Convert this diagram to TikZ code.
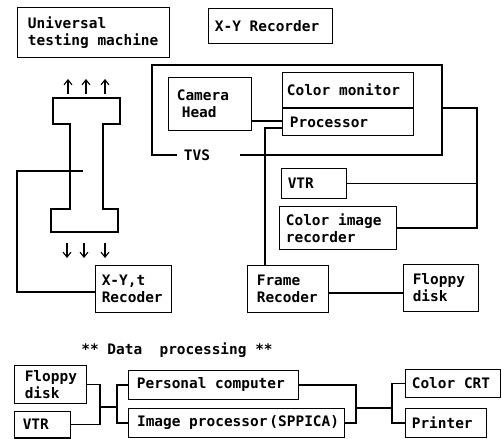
\documentclass[tikz,border=0pt]{standalone}
\usepackage{fontspec}
\setmonofont{DejaVu Sans Mono}
\usetikzlibrary{arrows.meta}
\tikzset{
  box/.style={draw, line width=1.1bp, inner sep=0pt},
  txt/.style={inner sep=0pt, align=left, anchor=west,
    font=\ttfamily\bfseries\fontsize{14.5}{17}\selectfont},
  wire/.style={line width=1.1bp},
  lbl/.style={inner sep=1bp, font=\ttfamily\bfseries\fontsize{14.5}{17}\selectfont},
  force/.style={line width=1.1bp, -{Straight Barb[length=5bp,width=8bp]}}
}
% [left padding] name, corner (x1,y1), corner (x2,y2), text -- pixel coordinates
\newcommand{\pbox}[7][9]{%
  \node[box, minimum width={(#5)-(#3)}, minimum height={(#6)-(#4)}]
    (#2) at ({((#3)+(#5))/2},{((#4)+(#6))/2}) {};
  \node[txt] (#2-t) at ([xshift=#1bp]#2.west) {#7};}
\begin{document}
\begin{tikzpicture}[x=1bp,y=-1bp]
\useasboundingbox (0,0) rectangle (502,439);

% ---- upper part ----
\pbox[11]{utm}{17}{7}{170}{58}{Universal\\testing machine}
\pbox[7]{xyr}{208}{8}{333}{44}{X-Y Recorder}
\pbox[9]{cam}{168}{77}{252}{131}{Camera\\\hspace*{5bp}Head}
\pbox[5]{cm}{282}{72}{414}{108}{Color monitor}
\pbox[8]{proc}{282}{108}{414}{136}{Processor}
\pbox[7]{vtra}{281}{168}{347}{199}{VTR}
\pbox[7]{cir}{279}{206}{397}{250}{Color image\\recorder}
\pbox[10]{frame}{247}{265}{329}{313}{Frame\\Recoder}
\pbox[10]{fda}{403}{264}{479}{312}{Floppy\\disk}
\pbox[7]{xyt}{95}{265}{172}{313}{X-Y,t\\Recoder}

% TVS enclosure
\node[lbl] (tvs) at (197,155) {TVS};
\coordinate (tvsL) at (177,155);
\coordinate (tvsR) at (240,155);
\coordinate (tvsBL) at (152,155);
\coordinate (tvsTL) at (152,65);
\coordinate (tvsTR) at (442,65);
\coordinate (tvsBR) at (442,155);
\draw[wire] (tvsL) -- (tvsBL) -- (tvsTL) -- (tvsTR) -- (tvsBR) -- (tvsR);

% camera head -> processor
\coordinate (ya) at (0,121);
\draw[wire] (cam.east |- ya) -- (proc.west |- ya);
% frame recorder -> processor
\coordinate (fx) at (265,128);
\draw[wire] (frame.north -| fx) -- (fx) -- (proc.west |- fx);
% TVS -> VTR and colour image recorder
\coordinate (ta) at (442,108);
\coordinate (tb) at (477,108);
\draw[wire] (ta) -- (tb) -- (tb |- cir.east) -- (cir.east);
\draw[wire] (vtra.east) -- (tb |- vtra.east);
% frame recorder -> floppy disk
\coordinate (yf) at (0,293);
\draw[wire] (frame.east |- yf) -- (fda.west |- yf);
% X-Y,t recorder -> specimen
\coordinate (xa) at (17,171);
\coordinate (xb) at (83,171);
\draw[wire] (xyt.west |- 0,292) -- (xa |- 0,292) -- (xa) -- (xb);

% specimen
\draw[wire] (53,98) -- (120,98) -- (120,124) -- (103,124) -- (103,209)
  -- (118,209) -- (118,232) -- (51,232) -- (51,209) -- (70,209)
  -- (70,124) -- (53,124) -- cycle;
\foreach \x in {68,86,105} \draw[force] (\x,94) -- (\x,79);
\foreach \x in {67,84,105} \draw[force] (\x,243) -- (\x,258);

% ---- data processing ----
\node[lbl] (title) at (177,350) {** Data\ \ processing **};
\pbox[11]{fdb}{14}{365}{87}{404}{Floppy\\disk}
\pbox[9]{vtrb}{14}{411}{71}{438}{VTR}
\pbox[9]{pc}{128}{370}{299}{400}{Personal computer}
\pbox[9]{ip}{128}{408}{345}{438}{Image processor\hspace{2bp}(SPPICA)}
\pbox[7]{crt}{405}{369}{501}{398}{Color CRT}
\pbox[7]{prn}{405}{408}{487}{438}{Printer}

\coordinate (la) at (100,407);
\coordinate (lb) at (117,407);
\draw[wire] (fdb.east) -- (la |- fdb.east) -- (la |- vtrb.east) -- (vtrb.east);
\draw[wire] (la) -- (lb);
\draw[wire] (pc.west) -- (lb |- pc.west) -- (lb |- ip.west) -- (ip.west);

\coordinate (ra) at (356,408);
\coordinate (rb) at (392,408);
\draw[wire] (pc.east) -- (ra |- pc.east) -- (ra |- ip.east) -- (ip.east);
\draw[wire] (ra) -- (rb);
\draw[wire] (crt.west) -- (rb |- crt.west) -- (rb |- prn.west) -- (prn.west);
\end{tikzpicture}
\end{document}
